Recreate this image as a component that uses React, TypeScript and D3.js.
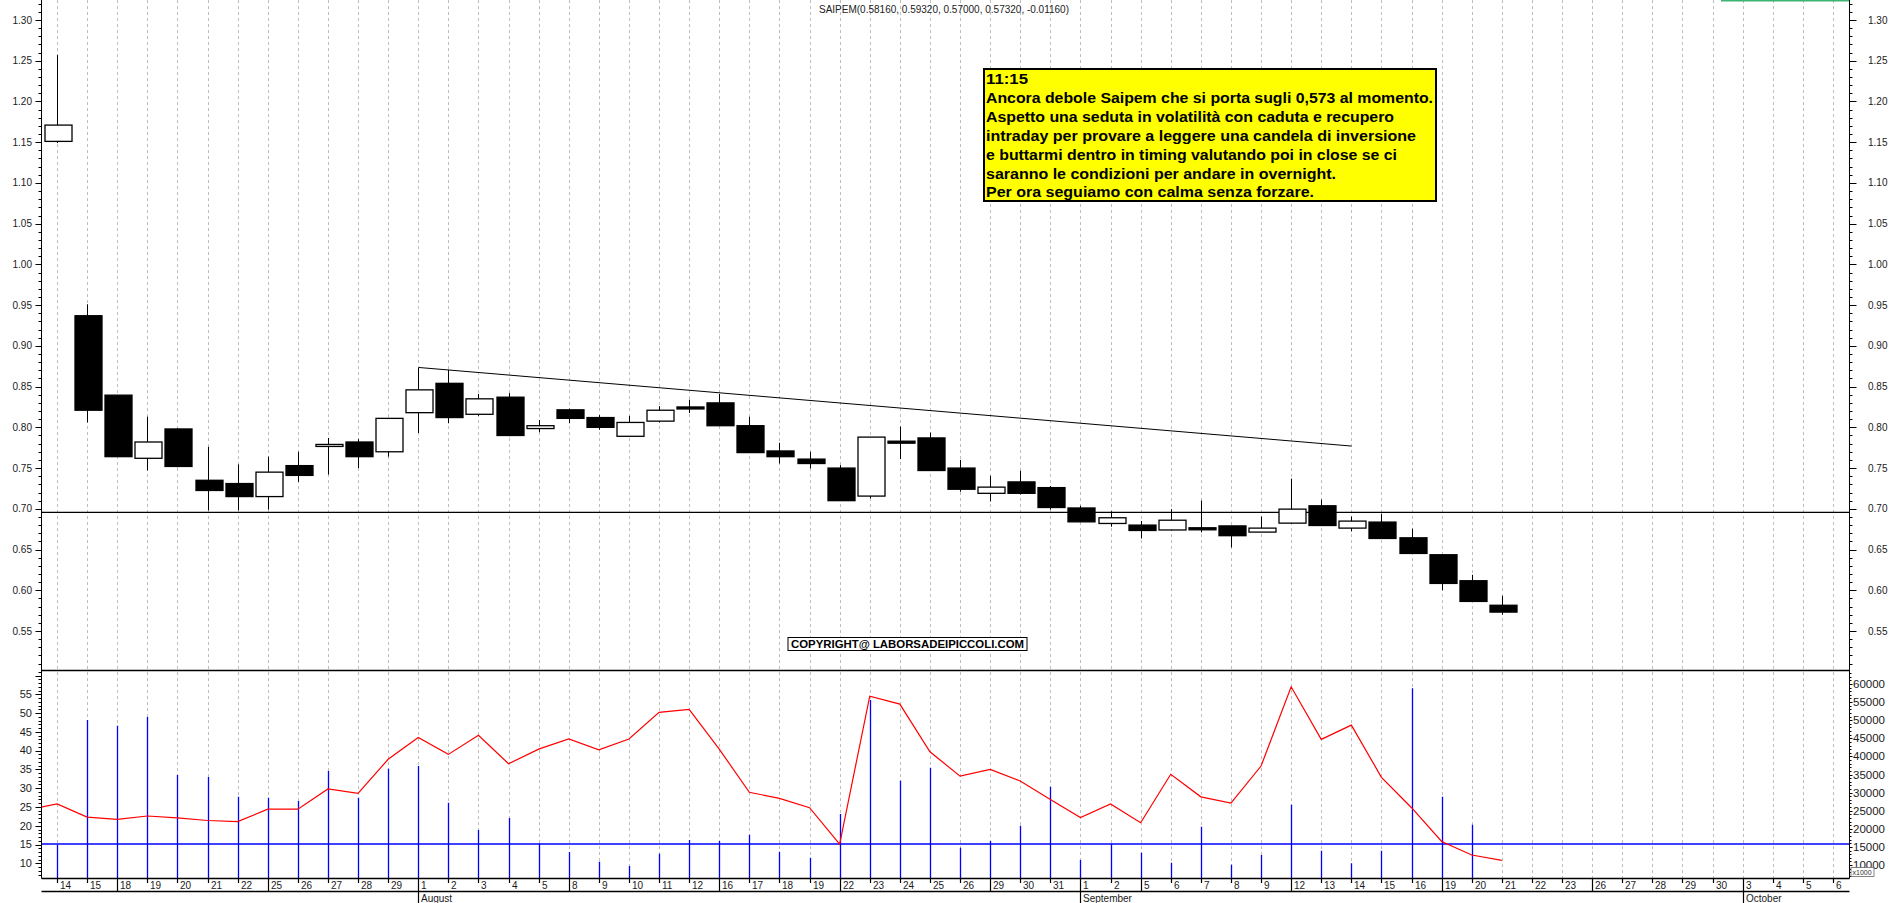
import * as d3 from "d3";

// trading days shown on the x axis (2011)
const julyDays = [14, 15, 18, 19, 20, 21, 22, 25, 26, 27, 28, 29];
const augustDays = [1, 2, 3, 4, 5, 8, 9, 10, 11, 12, 16, 17, 18, 19, 22, 23, 24, 25, 26, 29, 30, 31];
const septemberDays = [1, 2, 5, 6, 7, 8, 9, 12, 13, 14, 15, 16, 19, 20, 21, 22, 23, 26, 27, 28, 29, 30];
const octoberDays = [3, 4, 5, 6];
const monthNames = ["January", "February", "March", "April", "May", "June", "July", "August", "September", "October", "November", "December"];

// daily candles, Jul 14 -> Sep 21
const opens = [
  1.151, 0.937, 0.8395, 0.762, 0.798, 0.735, 0.731, 0.715, 0.753, 0.777, 0.782, 0.770,
  0.818, 0.854, 0.816, 0.837, 0.7985, 0.8215, 0.812, 0.789, 0.8076, 0.825, 0.830, 0.802, 0.771, 0.761, 0.750, 0.7156, 0.783, 0.787, 0.750, 0.719, 0.733, 0.726,
  0.701, 0.682, 0.680, 0.674, 0.6767, 0.679, 0.6714, 0.6824, 0.7037, 0.6763, 0.6837, 0.6644, 0.6436, 0.6117, 0.5816,
];
const highs = [
  1.257, 0.951, 0.8395, 0.813, 0.799, 0.776, 0.7545, 0.764, 0.770, 0.787, 0.7855, 0.811,
  0.873, 0.8705, 0.841, 0.842, 0.809, 0.823, 0.815, 0.814, 0.826, 0.834, 0.841, 0.813, 0.781, 0.770, 0.7536, 0.788, 0.801, 0.7936, 0.760, 0.7405, 0.7466, 0.728,
  0.7037, 0.697, 0.685, 0.6996, 0.710, 0.679, 0.6906, 0.737, 0.7114, 0.6906, 0.694, 0.6755, 0.6436, 0.619, 0.5932,
];
const lows = [
  1.149, 0.806, 0.764, 0.747, 0.751, 0.698, 0.698, 0.699, 0.733, 0.742, 0.750, 0.764,
  0.793, 0.805, 0.814, 0.789, 0.794, 0.805, 0.797, 0.789, 0.806, 0.8175, 0.802, 0.769, 0.7555, 0.7495, 0.710, 0.7127, 0.761, 0.747, 0.721, 0.709, 0.7176, 0.699,
  0.684, 0.678, 0.6636, 0.6735, 0.671, 0.6526, 0.6714, 0.682, 0.6795, 0.6722, 0.663, 0.645, 0.600, 0.5863, 0.570,
];
const closes = [
  1.171, 0.821, 0.764, 0.782, 0.752, 0.7225, 0.715, 0.745, 0.741, 0.779, 0.764, 0.811,
  0.846, 0.812, 0.835, 0.790, 0.802, 0.811, 0.800, 0.806, 0.821, 0.823, 0.802, 0.769, 0.764, 0.7556, 0.710, 0.788, 0.781, 0.747, 0.724, 0.7266, 0.719, 0.7016,
  0.684, 0.689, 0.6734, 0.686, 0.6742, 0.667, 0.6763, 0.6996, 0.6795, 0.6849, 0.6636, 0.6452, 0.6084, 0.5863, 0.5732,
];

// volume bars (x1000, right axis); last session has no visible bar
const volumes = [
  15600, 50050, 48480, 50880, 34860, 34310, 28870, 28590, 27680, 35970, 28590, 36600,
  37350, 27210, 19670, 22980, 15990, 13590, 10910, 9720, 13120, 16900, 16630, 18370, 13670, 12020, 24090, 55580, 33290, 36880, 14780, 16630, 20860, 31630,
  11380, 15880, 13400, 10640, 20580, 10080, 12760, 26660, 13950, 10470, 13950, 58810, 28870, 21130, null,
];
const volumeLevel = 15800;

// red line (left axis); first value is the session before Jul 14 (off chart)
const redLine = [
  24.2,
  25.8, 22.3, 21.7, 22.6, 22.1, 21.4, 21.1, 24.4, 24.4, 29.8, 28.6, 37.7,
  43.5, 39.0, 44.1, 36.5, 40.4, 43.1, 40.2, 43.1, 50.2, 51.0, 40.4, 28.9, 27.3, 24.8, 15.1, 54.5, 52.4, 39.7, 33.2, 35.0, 31.9, 27.0,
  22.2, 25.8, 20.8, 33.7, 27.7, 26.0, 35.9, 57.0, 43.0, 46.8, 32.9, 24.8, 15.8, 12.2, 10.8,
];

// drawn objects
const trendFrom = { day: 12, price: 0.8735 };
const trendTo = { day: 43, price: 0.777 };
const supportLevel = 0.6955;

const quoteTitle = "SAIPEM(0.58160, 0.59320, 0.57000, 0.57320, -0.01160)";
const noteLines = [
  "11:15",
  "Ancora debole Saipem che si porta sugli 0,573 al momento.",
  "Aspetto una seduta in volatilità con caduta e recupero",
  "intraday per provare a leggere una candela di inversione",
  "e buttarmi dentro in timing valutando poi in close se ci",
  "saranno le condizioni per andare in overnight.",
  "Per ora seguiamo con calma senza forzare.",
];
const copyrightText = "COPYRIGHT@ LABORSADEIPICCOLI.COM";

const dates = [
  ...julyDays.map((d) => new Date(2011, 6, d)),
  ...augustDays.map((d) => new Date(2011, 7, d)),
  ...septemberDays.map((d) => new Date(2011, 8, d)),
  ...octoberDays.map((d) => new Date(2011, 9, d)),
];

export default function App() {
  const width = 1890;
  const height = 903;
  const axisL = 41.5;
  const axisR = 1849.5;
  const priceBottom = 670.5;
  const volBottom = 878.5;
  const font = "'Liberation Sans', Arial, sans-serif";

  const x = d3.scaleLinear().domain([-0.5, dates.length - 0.5]).range([42, 1848]);
  const xs = (i: number) => Math.round(x(i)) + 0.5;
  const yP = d3.scaleLinear().domain([0.55, 1.3]).range([631, 20]);
  const yL = d3.scaleLinear().domain([10, 55]).range([863.3, 694.3]);
  const yR = d3.scaleLinear().domain([10000, 60000]).range([865, 684]);

  const priceMinor = d3.range(50, 134).map((v) => v / 100).filter((v) => yP(v) > 1 && yP(v) < priceBottom - 1);
  const priceMajor = d3.range(55, 131, 5).map((v) => v / 100);
  const leftMinor = d3.range(6, 63).filter((v) => yL(v) > priceBottom + 1 && yL(v) < volBottom - 1);
  const leftMajor = d3.range(10, 61, 5).filter((v) => yL(v) > priceBottom + 1);
  const rightMinor = d3.range(6, 64).map((v) => v * 1000).filter((v) => yR(v) > priceBottom + 1 && yR(v) < volBottom - 1);
  const rightMajor = d3.range(10000, 60001, 5000);

  const redPath = d3
    .line<number>()
    .x((_, i) => x(i - 1))
    .y((d) => yL(d))(redLine);

  const noteWidths = [42, 447, 408, 430, 411, 350, 328];

  return (
    <div style={{ position: "absolute", left: 0, top: 0 }}>
      <svg width={width} height={height} style={{ display: "block", background: "#fff" }} fontFamily={font}>
        <defs>
          <clipPath id="volClip">
            <rect x={axisL} y={priceBottom} width={axisR - axisL} height={volBottom - priceBottom} />
          </clipPath>
        </defs>
        <rect width={width} height={height} fill="#fff" />

        {/* dashed day grid */}
        {dates.map((_, i) => (
          <line key={"g" + i} x1={xs(i)} x2={xs(i)} y1={0} y2={volBottom} stroke="#bdbdbd" strokeDasharray="3,3" />
        ))}

        {/* top right marker */}
        <rect x={1721} y={0} width={axisR - 1721} height={1.5} fill="#3cb371" />

        {/* title */}
        <text x={819} y={12.5} fontSize={10} fill="#222">{quoteTitle}</text>

        {/* support line and trendline */}
        <line x1={axisL} x2={axisR} y1={yP(supportLevel)} y2={yP(supportLevel)} stroke="#000" strokeWidth={1.3} />
        <line x1={xs(trendFrom.day)} y1={yP(trendFrom.price)} x2={xs(trendTo.day)} y2={yP(trendTo.price)} stroke="#000" strokeWidth={1} />

        {/* candles */}
        {opens.map((o, i) => {
          const c = closes[i];
          const cx = xs(i);
          const up = c >= o;
          const top = yP(Math.max(o, c));
          const bh = Math.max(yP(Math.min(o, c)) - top, 2);
          return (
            <g key={"c" + i}>
              <line x1={cx} x2={cx} y1={yP(highs[i])} y2={yP(lows[i])} stroke="#000" />
              <rect x={cx - 12.5} y={top} width={27} height={bh} fill={up ? "#fff" : "#000"} stroke="#000" strokeWidth={1.3} />
            </g>
          );
        })}

        {/* note */}
        <rect x={984} y={69} width={452} height={132} fill="#ffff00" stroke="#000" strokeWidth={2} />
        {noteLines.map((t, i) => (
          <text
            key={"n" + i}
            x={986}
            y={84 + (i === 0 ? 0 : 19.3 + (i - 1) * 18.8)}
            fontSize={14}
            fontWeight="bold"
            fill="#000"
            textLength={noteWidths[i]}
            lengthAdjust="spacingAndGlyphs"
          >
            {t}
          </text>
        ))}

        {/* copyright */}
        <rect x={788} y={637.5} width={239} height={13} fill="#fff" stroke="#000" strokeWidth={1} />
        <text x={791} y={648} fontSize={11} fontWeight="bold" fill="#000" textLength={233} lengthAdjust="spacingAndGlyphs">
          {copyrightText}
        </text>

        {/* volume panel */}
        <g clipPath="url(#volClip)">
          {volumes.map((v, i) =>
            v == null ? null : (
              <line key={"v" + i} x1={xs(i)} x2={xs(i)} y1={yR(v)} y2={volBottom} stroke="#0000ff" strokeWidth={1.3} />
            )
          )}
          <line x1={axisL} x2={axisR} y1={yR(volumeLevel)} y2={yR(volumeLevel)} stroke="#0000ff" strokeWidth={1.3} />
          <path d={redPath ?? ""} fill="none" stroke="#ff0000" strokeWidth={1.2} />
        </g>

        {/* frame lines */}
        <line x1={axisL} x2={axisL} y1={0} y2={volBottom} stroke="#000" />
        <line x1={axisR} x2={axisR} y1={0} y2={volBottom} stroke="#000" />
        <line x1={axisL} x2={axisR} y1={priceBottom} y2={priceBottom} stroke="#000" strokeWidth={1.3} />
        <line x1={axisL} x2={axisR} y1={volBottom} y2={volBottom} stroke="#000" strokeWidth={1.3} />

        {/* price axes */}
        {priceMinor.map((v) => (
          <g key={"pm" + v}>
            <line x1={axisL - 3} x2={axisL} y1={Math.round(yP(v)) + 0.5} y2={Math.round(yP(v)) + 0.5} stroke="#000" />
            <line x1={axisR} x2={axisR + 3} y1={Math.round(yP(v)) + 0.5} y2={Math.round(yP(v)) + 0.5} stroke="#000" />
          </g>
        ))}
        {priceMajor.map((v) => (
          <g key={"pM" + v}>
            <line x1={axisL - 6} x2={axisL} y1={Math.round(yP(v)) + 0.5} y2={Math.round(yP(v)) + 0.5} stroke="#000" />
            <line x1={axisR} x2={axisR + 7} y1={Math.round(yP(v)) + 0.5} y2={Math.round(yP(v)) + 0.5} stroke="#000" />
            <text x={32} y={yP(v)} dy="0.35em" textAnchor="end" fontSize={10} fill="#1a1a1a">{v.toFixed(2)}</text>
            <text x={1868} y={yP(v)} dy="0.35em" fontSize={10} fill="#1a1a1a">{v.toFixed(2)}</text>
          </g>
        ))}

        {/* volume axes */}
        {leftMinor.map((v) => (
          <line key={"lm" + v} x1={axisL - 3} x2={axisL} y1={Math.round(yL(v)) + 0.5} y2={Math.round(yL(v)) + 0.5} stroke="#000" />
        ))}
        {leftMajor.map((v) => (
          <g key={"lM" + v}>
            <line x1={axisL - 6} x2={axisL} y1={Math.round(yL(v)) + 0.5} y2={Math.round(yL(v)) + 0.5} stroke="#000" />
            {v <= 55 && (
              <text x={32} y={yL(v)} dy="0.35em" textAnchor="end" fontSize={11} fill="#1a1a1a">{v}</text>
            )}
          </g>
        ))}
        {rightMinor.map((v) => (
          <line key={"rm" + v} x1={axisR} x2={axisR + 2} y1={Math.round(yR(v)) + 0.5} y2={Math.round(yR(v)) + 0.5} stroke="#000" />
        ))}
        {rightMajor.map((v) => (
          <g key={"rM" + v}>
            <line x1={axisR} x2={axisR + 3} y1={Math.round(yR(v)) + 0.5} y2={Math.round(yR(v)) + 0.5} stroke="#000" />
            <text x={1853} y={yR(v)} dy="0.35em" fontSize={11.5} fill="#1a1a1a">{v}</text>
          </g>
        ))}
        <rect x={1851} y={867.5} width={23} height={9} fill="#fff" stroke="#666" strokeWidth={0.8} />
        <text x={1852.5} y={875} fontSize={7} fill="#333">x1000</text>

        {/* date axis */}
        <line x1={axisL} x2={axisR} y1={891.5} y2={891.5} stroke="#000" strokeWidth={1.3} />
        {dates.map((d, i) => {
          const prev = i > 0 ? dates[i - 1] : null;
          const newMonth = prev != null && prev.getMonth() !== d.getMonth();
          const newWeek = prev != null && d.getDay() < prev.getDay();
          const cx = xs(i);
          return (
            <g key={"d" + i}>
              <line x1={cx} x2={cx} y1={volBottom} y2={newMonth ? height : newWeek ? 891.5 : 883} stroke="#000" strokeWidth={1.2} />
              <text x={cx + 2.5} y={888.5} fontSize={10} fill="#1a1a1a">{d.getDate()}</text>
              {newMonth && (
                <text x={cx + 2.5} y={901.5} fontSize={10} fill="#1a1a1a">{monthNames[d.getMonth()]}</text>
              )}
            </g>
          );
        })}
      </svg>
    </div>
  );
}
